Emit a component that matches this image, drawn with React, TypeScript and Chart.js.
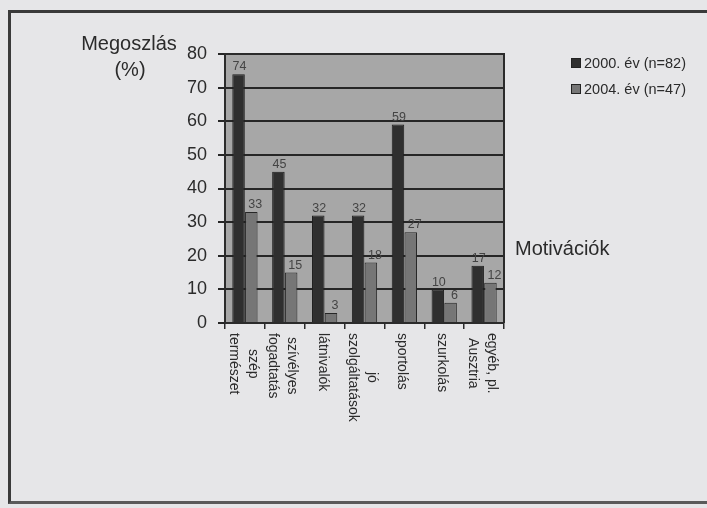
import React, { useEffect, useRef } from "react";
import { Chart, registerables } from "chart.js";

Chart.register(...registerables);

const categories: string[][] = [
  ["szép", "természet"],
  ["szívélyes", "fogadtatás"],
  ["látnivalók"],
  ["jó", "szolgáltatások"],
  ["sportolás"],
  ["szurkolás"],
  ["egyéb, pl.", "Ausztria"],
];
const series2000: number[] = [74, 45, 32, 32, 59, 10, 17];
const series2004: number[] = [33, 15, 3, 18, 27, 6, 12];
const seriesNames: string[] = ["2000. év (n=82)", "2004. év (n=47)"];
const yTitleLines: string[] = ["Megoszlás", "(%)"];
const xTitle = "Motivációk";

const FONT = '"Liberation Sans", Arial, Helvetica, sans-serif';
const INK = "#2b2b2b";
const DARK_BAR = "#2f2f2f";
const MID_BAR = "#767676";
const PLOT_BG = "#a7a7a7";

export default function App() {
  const canvasRef = useRef<HTMLCanvasElement | null>(null);

  useEffect(() => {
    const canvas = canvasRef.current;
    if (!canvas) return;

    const decor = {
      id: "decor",
      beforeDraw(chart: any) {
        const { ctx, chartArea: a } = chart;
        ctx.save();
        ctx.fillStyle = PLOT_BG;
        ctx.fillRect(a.left, a.top, a.right - a.left, a.bottom - a.top);
        ctx.restore();
      },
      afterDatasetsDraw(chart: any) {
        const { ctx, chartArea: a } = chart;
        ctx.save();
        ctx.strokeStyle = INK;
        ctx.lineWidth = 2;
        ctx.beginPath();
        ctx.moveTo(a.left, a.top);
        ctx.lineTo(a.right, a.top);
        ctx.lineTo(a.right, a.bottom);
        ctx.stroke();
        ctx.font = `12.5px ${FONT}`;
        ctx.fillStyle = "#444";
        ctx.textAlign = "center";
        ctx.textBaseline = "bottom";
        chart.data.datasets.forEach((ds: any, di: number) => {
          const meta = chart.getDatasetMeta(di);
          meta.data.forEach((el: any, i: number) => {
            ctx.fillText(String(ds.data[i]), el.x + (di === 1 ? 4 : 1), el.y - 1);
          });
        });
        ctx.restore();
      },
      afterDraw(chart: any) {
        const { ctx } = chart;
        const xs = chart.scales.x;
        ctx.save();
        ctx.font = `14px ${FONT}`;
        ctx.fillStyle = INK;
        ctx.textAlign = "center";
        ctx.textBaseline = "middle";
        const lineH = 19;
        categories.forEach((lines, i) => {
          const cx = xs.getPixelForValue(i) - 2;
          const maxW = Math.max(...lines.map((l) => ctx.measureText(l).width));
          ctx.save();
          ctx.translate(cx, 333);
          ctx.rotate(Math.PI / 2);
          lines.forEach((l, j) => {
            ctx.fillText(l, maxW / 2, (j - (lines.length - 1) / 2) * lineH);
          });
          ctx.restore();
        });
        ctx.font = `20px ${FONT}`;
        ctx.textAlign = "center";
        ctx.fillText(yTitleLines[0], 129, 44);
        ctx.fillText(yTitleLines[1], 130, 70);
        ctx.textAlign = "left";
        ctx.fillText(xTitle, 515, 249);
        ctx.font = `14.5px ${FONT}`;
        const colors = [DARK_BAR, MID_BAR];
        seriesNames.forEach((name, k) => {
          const cy = 63 + k * 26;
          ctx.fillStyle = colors[k];
          ctx.fillRect(571, cy - 5, 10, 10);
          ctx.strokeStyle = "#222";
          ctx.lineWidth = 1;
          ctx.strokeRect(571.5, cy - 4.5, 9, 9);
          ctx.fillStyle = INK;
          ctx.textAlign = "left";
          ctx.fillText(name, 584, cy + 1);
        });
        ctx.restore();
      },
    };

    const chart = new Chart(canvas, {
      type: "bar",
      data: {
        labels: categories.map((c) => c.join(" ")),
        datasets: [
          {
            label: seriesNames[0],
            data: series2000,
            backgroundColor: DARK_BAR,
            borderColor: "#1e1e1e",
            borderWidth: 1,
            categoryPercentage: 0.64,
            barPercentage: 0.98,
          },
          {
            label: seriesNames[1],
            data: series2004,
            backgroundColor: MID_BAR,
            borderColor: "#262626",
            borderWidth: 1,
            categoryPercentage: 0.64,
            barPercentage: 0.98,
          },
        ],
      },
      options: {
        animation: false,
        responsive: false,
        maintainAspectRatio: false,
        devicePixelRatio: 1,
        layout: { padding: { top: 54, right: 203, bottom: 0, left: 0 } },
        plugins: {
          legend: { display: false },
          tooltip: { enabled: false },
          title: { display: false },
        },
        scales: {
          x: {
            type: "category",
            offset: true,
            grid: {
              display: true,
              offset: true,
              drawOnChartArea: false,
              drawTicks: true,
              tickLength: 6,
              color: INK,
              lineWidth: 1.5,
            },
            border: { display: true, color: INK, width: 2 },
            ticks: { display: false },
            afterFit: (scale: any) => {
              scale.height = 508 - 323;
            },
          },
          y: {
            min: 0,
            max: 80,
            ticks: {
              stepSize: 10,
              color: INK,
              font: { family: FONT, size: 18 },
              padding: 11,
            },
            grid: {
              color: "#262626",
              lineWidth: 2,
              tickLength: 7,
              drawTicks: true,
            },
            border: { display: true, color: INK, width: 2 },
            afterFit: (scale: any) => {
              scale.width = 225;
            },
          },
        },
      },
      plugins: [decor],
    });

    return () => chart.destroy();
  }, []);

  return (
    <div
      style={{
        position: "fixed",
        left: 0,
        top: 0,
        width: 707,
        height: 508,
        background: "#e6e6e8",
        overflow: "hidden",
      }}
    >
      <div
        style={{
          position: "absolute",
          left: 8,
          top: 10,
          width: 720,
          height: 488,
          borderLeft: "3px solid #3a3a3a",
          borderTop: "3px solid #3a3a3a",
          borderBottom: "3px solid #5a5a5a",
        }}
      />
      <canvas
        ref={canvasRef}
        width={707}
        height={508}
        style={{ position: "absolute", left: 0, top: 0, width: 707, height: 508 }}
      />
    </div>
  );
}
